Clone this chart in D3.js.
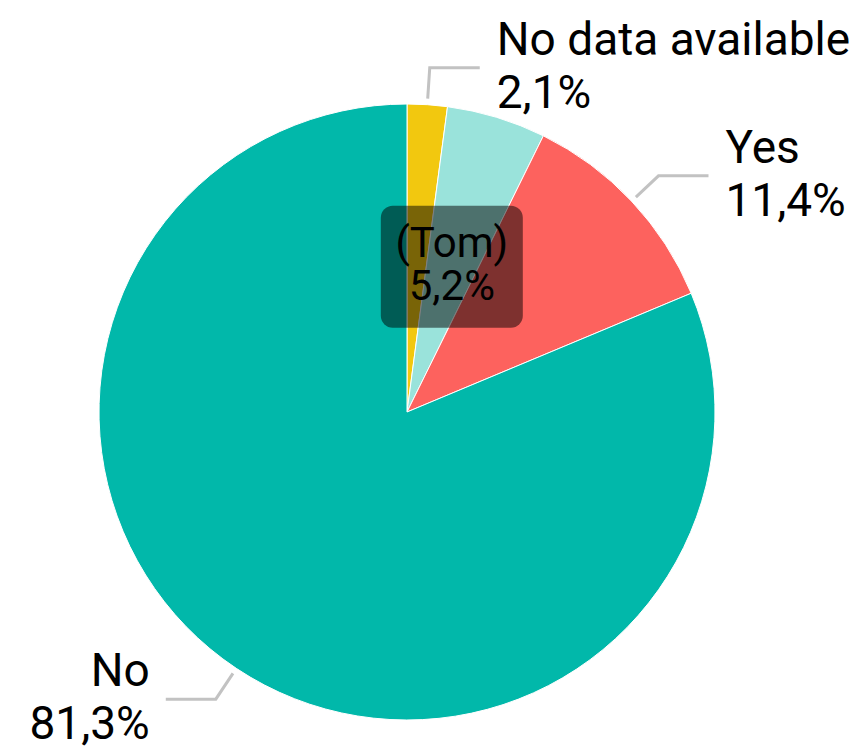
<!DOCTYPE html>
<html><head><meta charset="utf-8">
<script src="https://cdn.jsdelivr.net/npm/d3@7"></script>
<style>html,body{margin:0;padding:0;background:#fff;}svg{display:block;}</style>
</head><body>
<script>
const categories = ["No data available", "(Tom)", "Yes", "No"];
const values = [2.1, 5.2, 11.4, 81.3];
const valueLabels = ["2,1%", "5,2%", "11,4%", "81,3%"];
const colors = ["#F2C80F", "#9AE3DB", "#FD625E", "#01B8AA"];

const W = 861, H = 751;
const cx = 407, cy = 412, R = 308;
const fontSize = 46;
const font = "Roboto, 'DejaVu Sans', sans-serif";

const data = categories.map((c, i) => ({cat: c, val: values[i], lbl: valueLabels[i], color: colors[i]}));

const svg = d3.select("body").append("svg").attr("width", W).attr("height", H);
const g = svg.append("g").attr("transform", `translate(${cx},${cy})`);

const pie = d3.pie().value(d => d.val).sort(null);
const arcs = pie(data);
const arc = d3.arc().innerRadius(0).outerRadius(R);

g.selectAll("path.slice").data(arcs).enter().append("path")
  .attr("class", "slice")
  .attr("d", arc)
  .attr("fill", d => d.data.color)
  .attr("stroke", "#fff")
  .attr("stroke-width", 1);

function pt(angle, r) { return [Math.sin(angle) * r, -Math.cos(angle) * r]; }

// outside labels with leader lines
const outside = arcs.filter(a => a.data.cat !== "(Tom)");
outside.forEach(a => {
  const mid = (a.startAngle + a.endAngle) / 2;
  const p0 = pt(mid, R + 6);
  const p1 = pt(mid, R + 37);
  const right = Math.sin(mid) >= 0;
  const p2 = [p1[0] + (right ? 50 : -50), p1[1]];
  g.append("polyline")
    .attr("points", [p0, p1, p2].map(p => p.join(",")).join(" "))
    .attr("fill", "none").attr("stroke", "#C2C2C2").attr("stroke-width", 3);
  const tx = p2[0] + (right ? 17 : -16);
  const anchor = right ? "start" : "end";
  g.append("text")
    .attr("x", tx).attr("y", p1[1] - 13)
    .attr("text-anchor", anchor)
    .attr("font-family", font).attr("font-size", fontSize).attr("fill", "#000")
    .text(a.data.cat);
  g.append("text")
    .attr("x", tx).attr("y", p1[1] + 40)
    .attr("text-anchor", anchor)
    .attr("font-family", font).attr("font-size", fontSize).attr("fill", "#000")
    .text(a.data.lbl);
});

// inside label with dark box
const tom = arcs.find(a => a.data.cat === "(Tom)");
const c = arc.centroid(tom);
const bw = 142, bh = 122;
g.append("rect")
  .attr("x", c[0] - bw / 2).attr("y", c[1] - bh / 2 + 2)
  .attr("width", bw).attr("height", bh)
  .attr("rx", 12).attr("ry", 12)
  .attr("fill", "#000").attr("fill-opacity", 0.5);
g.append("text")
  .attr("x", c[0]).attr("y", c[1] - 8)
  .attr("text-anchor", "middle")
  .attr("font-family", font).attr("font-size", 42).attr("fill", "#000")
  .text(tom.data.cat);
g.append("text")
  .attr("x", c[0]).attr("y", c[1] + 35)
  .attr("text-anchor", "middle")
  .attr("font-family", font).attr("font-size", 42).attr("fill", "#000")
  .text(tom.data.lbl);
</script>
</body></html>
